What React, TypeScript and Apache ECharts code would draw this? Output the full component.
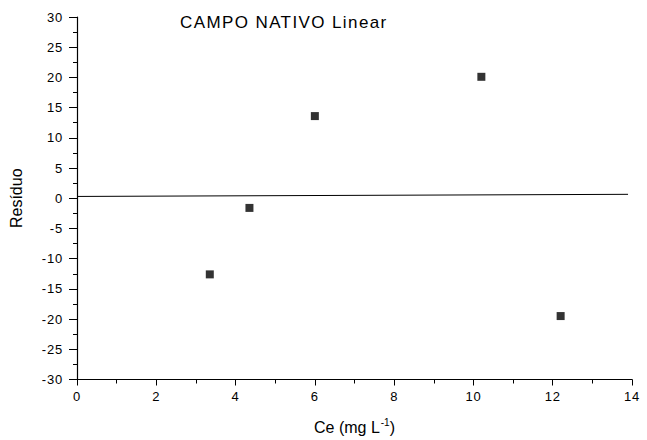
import React, { useEffect, useRef } from "react";
import * as echarts from "echarts";

const titleText = "CAMPO NATIVO Linear";
const ceValues = [3.35, 4.35, 6.0, 10.2, 12.2];
const residuals = [-12.6, -1.6, 13.6, 20.1, -19.5];
const fitX = [0, 13.9];
const fitY = [0.3, 0.65];

const css = `
#root svg text { letter-spacing: 0.8px; }
#root svg text[style*="17px"] { letter-spacing: 1.4px; }
#root svg text[style*="16px"], #root svg text[style*="10px"] { letter-spacing: 0px; }
`;

export default function App() {
  const ref = useRef<HTMLDivElement>(null);
  useEffect(() => {
    const chart = echarts.init(ref.current!, null, { renderer: "svg" });
    const font = "Liberation Sans, Arial, sans-serif";
    chart.setOption({
      animation: false,
      backgroundColor: "#fff",
      title: {
        text: titleText,
        left: 175,
        top: 9,
        textStyle: { fontFamily: font, fontSize: 17, fontWeight: "normal", color: "#000" },
      },
      grid: { left: 76, top: 17, right: 15, bottom: 60 },
      xAxis: {
        type: "value",
        min: 0,
        max: 14,
        interval: 2,
        name: "{a|Ce (mg L}{s|-1}{a|)}",
        nameLocation: "middle",
        nameGap: 38,
        nameTextStyle: {
          rich: {
            a: { fontFamily: font, fontSize: 16, color: "#000" },
            s: { fontFamily: font, fontSize: 10, color: "#000", verticalAlign: "top", padding: [0, 0, 9, 1] },
          },
        },
        axisLine: { onZero: false, lineStyle: { color: "#000", width: 1.2 } },
        axisTick: { inside: false, length: 6, lineStyle: { color: "#000" } },
        minorTick: { show: true, splitNumber: 2, length: 4, lineStyle: { color: "#000" } },
        axisLabel: { fontFamily: font, fontSize: 13, color: "#000", margin: 10 },
        splitLine: { show: false },
      },
      yAxis: {
        type: "value",
        min: -30,
        max: 30,
        interval: 5,
        name: "Resíduo",
        nameLocation: "middle",
        nameGap: 53,
        nameTextStyle: { fontFamily: font, fontSize: 16, color: "#000" },
        axisLine: { onZero: false, lineStyle: { color: "#000", width: 1.2 } },
        axisTick: { inside: false, length: 8, lineStyle: { color: "#000" } },
        minorTick: { show: true, splitNumber: 2, length: 4, lineStyle: { color: "#000" } },
        axisLabel: { fontFamily: font, fontSize: 13, color: "#000", margin: 14 },
        splitLine: { show: false },
      },
      series: [
        {
          type: "line",
          data: fitX.map((x, i) => [x, fitY[i]]),
          showSymbol: false,
          lineStyle: { color: "#000", width: 1 },
          silent: true,
        },
        {
          type: "scatter",
          data: ceValues.map((x, i) => [x, residuals[i]]),
          symbol: "rect",
          symbolSize: 8,
          itemStyle: { color: "#000" },
        },
      ],
    });
    return () => chart.dispose();
  }, []);
  return (
    <>
      <style>{css}</style>
      <div
        ref={ref}
        style={{ position: "fixed", left: 0, top: 0, width: 647, height: 440 }}
      />
    </>
  );
}
